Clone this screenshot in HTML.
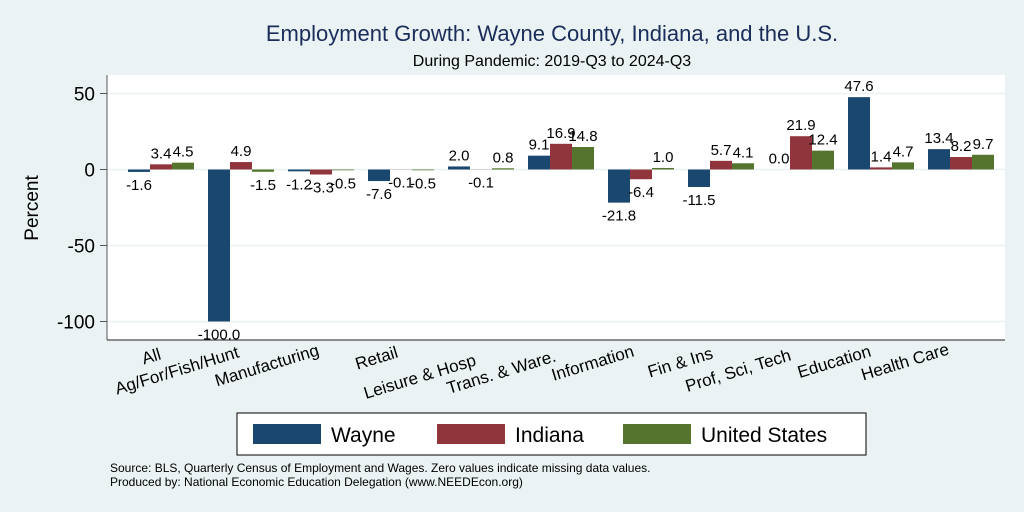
<!DOCTYPE html>
<html><head><meta charset="utf-8"><style>
body{margin:0;background:#eaf2f3;}
svg{display:block;font-family:"Liberation Sans",sans-serif;}
</style></head><body>
<svg width="1024" height="512">
<rect x="0" y="0" width="1024" height="512" fill="#eaf2f3"/>
<text x="552" y="41" font-size="22" fill="#1a2d5a" text-anchor="middle">Employment Growth: Wayne County, Indiana, and the U.S.</text>
<text x="552" y="66" font-size="16" fill="#000" text-anchor="middle">During Pandemic: 2019-Q3 to 2024-Q3</text>
<rect x="107" y="75" width="898" height="265" fill="#fff"/>
<g id="grid"></g>
<line x1="107" y1="75" x2="107" y2="340" stroke="#555"/>
<line x1="107" y1="340" x2="1005" y2="340" stroke="#222"/>
<text transform="translate(38,208) rotate(-90)" font-size="19" text-anchor="middle">Percent</text>
<g id="bars"></g>
<g id="xlabels"></g>
<rect x="237" y="413" width="629" height="42" fill="#fff" stroke="#000"/>
<g><rect x="253" y="424" width="68" height="20" fill="#1a476f"/><text x="331" y="442" font-size="21">Wayne</text></g>
<g><rect x="437" y="424" width="68" height="20" fill="#90353b"/><text x="515" y="442" font-size="21">Indiana</text></g>
<g><rect x="623" y="424" width="68" height="20" fill="#55752f"/><text x="701" y="442" font-size="21">United States</text></g>
<text x="110" y="472" font-size="12">Source: BLS, Quarterly Census of Employment and Wages. Zero values indicate missing data values.</text>
<text x="110" y="486" font-size="12">Produced by: National Economic Education Delegation (www.NEEDEcon.org)</text>
</svg>
<script>
const categories=["All","Ag/For/Fish/Hunt","Manufacturing","Retail","Leisure & Hosp","Trans. & Ware.","Information","Fin & Ins","Prof, Sci, Tech","Education","Health Care"];
const wayne=[-1.6,-100.0,-1.2,-7.6,2.0,9.1,-21.8,-11.5,0.0,47.6,13.4];
const indiana=[3.4,4.9,-3.3,-0.1,-0.1,16.9,-6.4,5.7,21.9,1.4,8.2];
const us=[4.5,-1.5,-0.5,-0.5,0.8,14.8,1.0,4.1,12.4,4.7,9.7];
const yTicks=[50,0,-50,-100];
const labelEndX=[162,240,320,399,477,557,635,714,792,872,950];
const labelEndY=[359,357,355,357,365,361,356,358,360,356,354];
const NS="http://www.w3.org/2000/svg";
const y=v=>169.5-v*1.52;
const xc=i=>161+i*80;
const bw=22;
function mk(tag,attrs,parent){const e=document.createElementNS(NS,tag);for(const k in attrs)e.setAttribute(k,attrs[k]);parent.appendChild(e);return e;}
const grid=document.getElementById('grid');
yTicks.forEach(t=>{
 const l=mk('line',{x1:107,x2:1005,y1:y(t),y2:y(t),stroke:'#eaf2f3','stroke-width':1.5},grid);
 
 
 const tk=mk('line',{x1:100,x2:107,y1:y(t),y2:y(t),stroke:'#555'},grid);
 
 
 const tx=mk('text',{x:95,y:y(t)+7,'font-size':19,'text-anchor':'end'},grid);
 tx.textContent=t;
 
 
});
const bars=document.getElementById('bars');
const series=[[wayne,'#1a476f','wayne'],[indiana,'#90353b','indiana'],[us,'#55752f','us']];
categories.forEach((c,i)=>{
 series.forEach(([arr,col,nm],s)=>{
  const v=arr[i];const x0=xc(i)-33+s*bw;
  const r=mk('rect',{x:x0,y:Math.min(y(v),y(0)),width:bw,height:Math.abs(y(v)-y(0)),fill:col},bars);
  
  
  const ty=v>=0?y(v)-6:y(v)+18;
  const t=mk('text',{x:x0+bw/2,y:ty,'font-size':15,'text-anchor':'middle'},bars);
  t.textContent=v.toFixed(1);
  
  
 });
 const lx=labelEndX[i],ly=labelEndY[i];
 const t=mk('text',{x:lx,y:ly,'font-size':17,'text-anchor':'end',transform:`rotate(-17 ${lx} ${ly})`},document.getElementById('xlabels'));
 t.textContent=c;
 
 
});
</script>
</body></html>
